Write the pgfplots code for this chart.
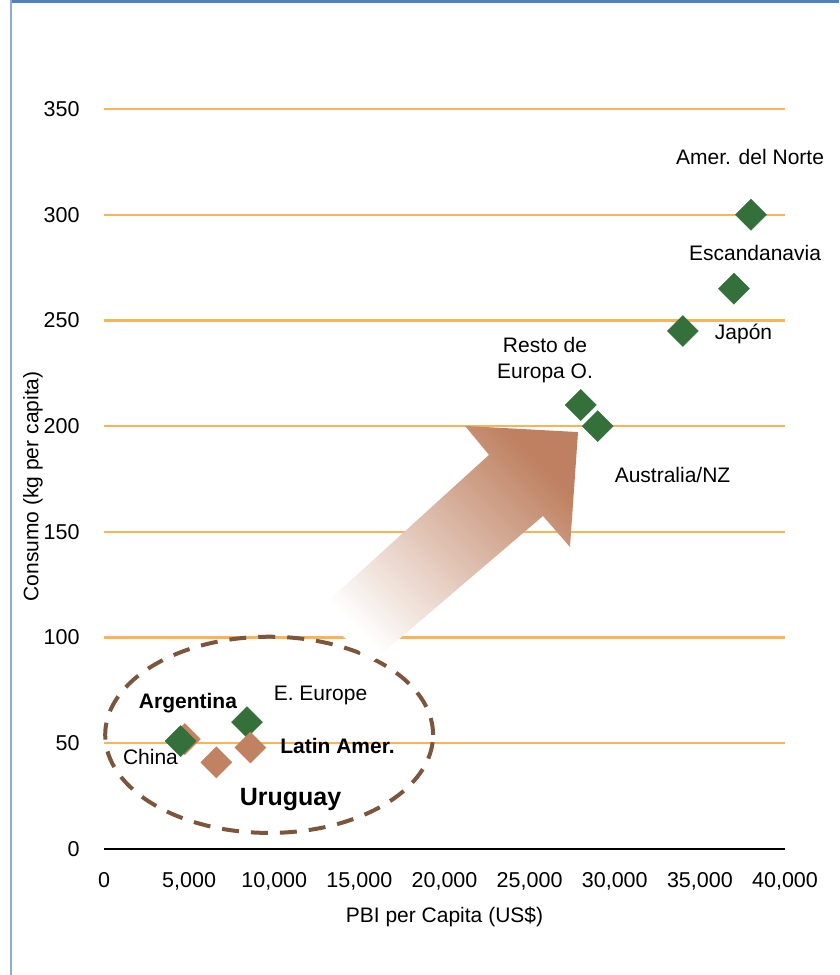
\documentclass[border=0pt]{standalone}
\usepackage{pgfplots}
\pgfplotsset{compat=1.18}
\usepackage{fontspec}
\setmainfont{Liberation Sans}
\definecolor{gridorange}{RGB}{249,180,90}
\definecolor{mkgreen}{RGB}{52,112,58}
\definecolor{mkbrown}{RGB}{193,130,98}
\definecolor{ellbrown}{RGB}{125,85,60}
\definecolor{arrbrown}{RGB}{190,128,96}
\definecolor{frameblue}{RGB}{79,129,189}
\definecolor{leftblue}{RGB}{142,170,219}
\begin{document}
\begin{tikzpicture}
\useasboundingbox (0,0) rectangle (839pt,975pt);
\fill[frameblue] (10pt,972.3pt) rectangle (839pt,975pt);
\fill[leftblue] (10pt,0pt) rectangle (12pt,975pt);
\begin{axis}[
  at={(104pt,126pt)}, anchor=south west,
  scale only axis, width=681pt, height=740pt,
  xmin=0, xmax=40000, ymin=0, ymax=350,
  xtick={0,5000,...,40000}, ytick={0,50,...,350},
  scaled x ticks=false,
  /pgf/number format/.cd, fixed, 1000 sep={,}, assume math mode=true, /pgfplots/.cd,
  axis x line=bottom, axis y line=left,
  x axis line style={-, line width=2pt, black},
  y axis line style={draw=none},
  major tick length=0pt,
  ymajorgrids, grid style={gridorange, line width=2.3pt},
  tick label style={font=\fontsize{21.5}{25}\selectfont, black},
  xticklabel style={yshift=-20pt},
  yticklabel style={xshift=-21pt},
  xlabel={PBI per Capita (US\$)},
  ylabel={Consumo (kg per capita)},
  label style={font=\fontsize{21}{25}\selectfont},
  xlabel style={at={(axis description cs:0.5,-0.0919)}, anchor=center},
  ylabel style={at={(axis description cs:-0.1043,0.49)}, anchor=center, rotate=0},
  clip=false,
  axis on top=false,
]
% ellipse and arrow (annotations)
\draw[ellbrown, line width=4pt, dash pattern=on 17pt off 12pt] (axis cs:9700,54) ellipse [x radius=9630, y radius=46.4];
\shade[top color=arrbrown, bottom color=white, shading angle=-45]
  (axis cs:12453,112.1) -- (axis cs:22614,186.4) -- (axis cs:21205,200.1) -- (axis cs:27842,197.2)
  -- (axis cs:27372,142.8) -- (axis cs:25786,157.5) -- (axis cs:15742,88.4) -- cycle;
% China (behind Argentina)
\addplot[only marks, mark=square*, mark size=11pt, mark options={rotate=45, draw=mkbrown, fill=mkbrown}]
  coordinates {(4750,52)};
% green series
\addplot[only marks, mark=square*, mark size=11pt, mark options={rotate=45, draw=mkgreen, fill=mkgreen}]
  coordinates {(4500,51) (8400,60) (28000,210) (29000,200) (34000,245) (37000,265) (38000,300)};
% Uruguay, Latin America
\addplot[only marks, mark=square*, mark size=11pt, mark options={rotate=45, draw=mkbrown, fill=mkbrown}]
  coordinates {(6600,41) (8600,48)};
% labels
\begin{scope}[every node/.style={font=\fontsize{21}{26}\selectfont, inner sep=0pt}]
\node at (axis cs:37946,327.3) {Amer. del Norte};
\node at (axis cs:38240,281.9) {Escandanavia};
\node at (axis cs:37565,243.6) {Japón};
\node[align=center] at (axis cs:25904,231.3) {Resto de\\Europa O.};
\node at (axis cs:33395,176.9) {Australia/NZ};
\node[font=\fontsize{21}{26}\selectfont\bfseries] at (axis cs:4934,69.1) {Argentina};
\node at (axis cs:12717,72.8) {E. Europe};
\node at (axis cs:2731,43.5) {China};
\node[font=\fontsize{21}{26}\selectfont\bfseries] at (axis cs:13715,48.7) {Latin Amer.};
\node[font=\fontsize{25}{30}\selectfont\bfseries] at (axis cs:10955,23.6) {Uruguay};
\end{scope}
\end{axis}
\end{tikzpicture}
\end{document}
